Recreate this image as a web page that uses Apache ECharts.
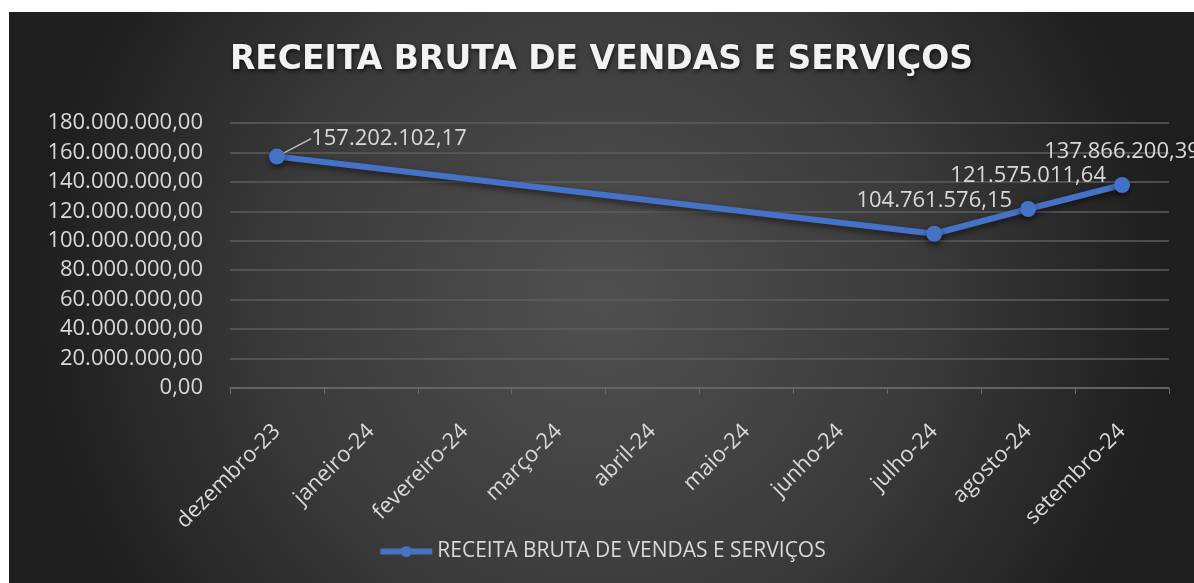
<!DOCTYPE html>
<html>
<head>
<meta charset="utf-8">
<script src="https://cdn.jsdelivr.net/npm/echarts@6/dist/echarts.min.js"></script>
<style>
html,body{margin:0;padding:0;background:#ffffff;width:1194px;height:583px;overflow:hidden;}
#chart{position:absolute;left:9px;top:12px;width:1185px;height:571px;}
</style>
</head>
<body>
<div id="chart"></div>
<script>
const titleText = 'RECEITA BRUTA DE VENDAS E SERVIÇOS';
const seriesName = 'RECEITA BRUTA DE VENDAS E SERVIÇOS';
const categories = ['dezembro-23','janeiro-24','fevereiro-24','março-24','abril-24','maio-24','junho-24','julho-24','agosto-24','setembro-24'];
const values = [157202102.17, null, null, null, null, null, null, 104761576.15, 121575011.64, 137866200.39];
const yMin = 0, yMax = 180000000, yStep = 20000000;

function fmtBR(v){
  const neg = v < 0; v = Math.abs(v);
  const parts = v.toFixed(2).split('.');
  const intPart = parts[0].replace(/\B(?=(\d{3})+(?!\d))/g, '.');
  return (neg?'-':'') + intPart + ',' + parts[1];
}

const chart = echarts.init(document.getElementById('chart'), null, {renderer:'canvas'});
const labelColor = '#d9d9d9';
const font = 'Open Sans';

const seriesData = values.map((v, i) => ({
  value: v,
  labelLine: {show: i === 0}
}));

chart.setOption({
  animation:false,
  backgroundColor:{
    type:'radial', x:0.5, y:0.5, r:1.0,
    colorStops:[{offset:0,color:'#505050'},{offset:0.55,color:'#3b3b3b'},{offset:1,color:'#1e1e1e'}]
  },
  title:{
    text:titleText, left:'center', top:27,
    textStyle:{
      color:'#f2f2f2', fontFamily:'DejaVu Sans', fontWeight:'bold', fontSize:33,
      textShadowColor:'rgba(0,0,0,0.7)', textShadowBlur:4, textShadowOffsetX:1, textShadowOffsetY:2
    }
  },
  legend:{
    bottom:16, left:'center',
    itemWidth:52, itemHeight:14, itemGap:4,
    lineStyle:{width:6},
    textStyle:{color:labelColor, fontFamily:font, fontSize:21},
    data:[seriesName]
  },
  grid:{left:221, right:25, top:111, bottom:195},
  xAxis:{
    type:'category', data:categories, boundaryGap:true,
    axisLine:{lineStyle:{color:'#6a6a6a', width:1.5}},
    axisTick:{show:true, length:6, lineStyle:{color:'#6a6a6a'}},
    axisLabel:{rotate:45, margin:40, color:labelColor, fontFamily:font, fontSize:22, interval:0}
  },
  yAxis:{
    type:'value', min:yMin, max:yMax, interval:yStep,
    axisLine:{show:false}, axisTick:{show:false},
    splitLine:{lineStyle:{color:'#5e5e5e', width:1.5}},
    axisLabel:{margin:27, color:labelColor, fontFamily:font, fontSize:22, formatter:v=>fmtBR(v)}
  },
  series:[{
    name:seriesName, type:'line', data:seriesData, connectNulls:true,
    symbol:'circle', symbolSize:16,
    lineStyle:{color:'#4472c4', width:6, shadowColor:'rgba(0,0,0,0.55)', shadowBlur:6, shadowOffsetY:3},
    itemStyle:{color:'#4472c4', shadowColor:'rgba(0,0,0,0.55)', shadowBlur:6, shadowOffsetY:3},
    label:{show:true, position:'top', distance:14, color:labelColor, fontFamily:font, fontSize:22,
      formatter:p=>fmtBR(p.value)},
    labelLine:{show:false, lineStyle:{color:'#bfbfbf', width:1.5}},
    labelLayout:function(p){
      if(p.dataIndex===0){ return {dx:112, dy:15}; }
      return {};
    }
  }]
});
</script>
</body>
</html>
